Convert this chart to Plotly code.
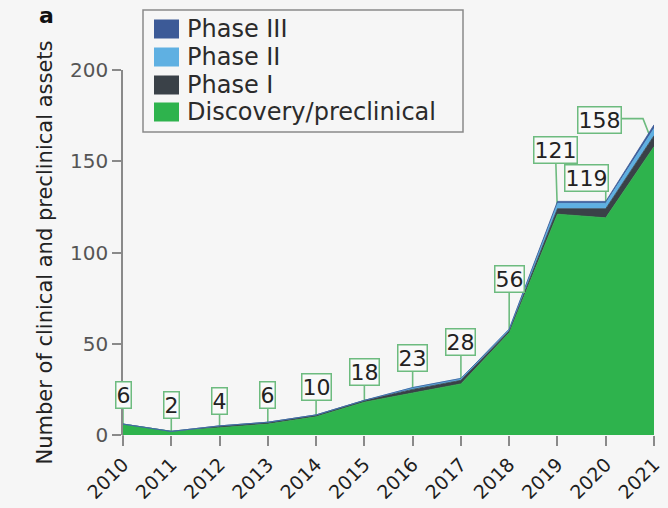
import plotly.graph_objects as go

# Pipeline counts per year, stacked from earliest stage upward
years = list(range(2010, 2022))
discovery = [6, 2, 4, 6, 10, 18, 23, 28, 56, 121, 119, 158]
phase1 = [0, 0, 1, 1, 1, 1, 2, 2, 1, 3, 5, 6]
phase2 = [0, 0, 0, 0, 0, 0, 1, 1, 1, 3, 3, 4]
phase3 = [0, 0, 0, 0, 0, 0, 0, 0, 0, 1, 1, 2]

series_names = ["Discovery/preclinical", "Phase I", "Phase II", "Phase III"]
series_colors = ["#2eb34d", "#3a4148", "#5fb0e2", "#3c5a97"]

# Callout box offsets (pixels from the labelled point to the box centre)
label_dx = [0, 0, 0, 0, 0, 0, 0, 0, 0, -2, -19, -55]
label_dy = [29, 26, 27, 29, 30, 30, 35, 42, 54, 64, 40, 27]

W, H = 668, 508
ML, MR, MT, MB = 123, 14, 70, 73
PW, PH = W - ML - MR, H - MT - MB


def px(x):
    return (x - ML) / PW


def py(y):
    return (H - MB - y) / PH


FONT = "DejaVu Sans"
LEADER = "#6dbb7f"
AXIS = "#8a8a8a"

fig = go.Figure()
for name, vals, col in zip(series_names, [discovery, phase1, phase2, phase3], series_colors):
    fig.add_trace(go.Scatter(
        x=years, y=vals, name=name, mode="lines",
        stackgroup="pipeline", line=dict(width=0.8, color=col),
        fillcolor=col, showlegend=False, hoverinfo="x+y+name",
    ))

shapes = []
annotations = []
for i, (yr, v) in enumerate(zip(years, discovery)):
    dx, dy = label_dx[i], label_dy[i]
    if i == len(years) - 1:
        path = f"M0,0 L-11,{dy + 1} L{dx},{dy + 1}"
    elif i == 10:
        path = f"M0,0 L0,{dy}"
    else:
        path = f"M0,0 L{dx},{dy}"
    shapes.append(dict(
        type="path", xref="x", yref="y", xsizemode="pixel", ysizemode="pixel",
        xanchor=yr, yanchor=v, path=path, layer="below",
        line=dict(color=LEADER, width=1.6),
    ))
    annotations.append(dict(
        x=yr, y=v, xref="x", yref="y", text=str(v), showarrow=False,
        xshift=dx, yshift=dy, xanchor="center", yanchor="middle",
        font=dict(family=FONT, size=22, color="#222222"),
        bgcolor="#f9f9f9", bordercolor=LEADER, borderwidth=1.5, borderpad=0,
    ))

# y-axis line continues down past zero to the bottom of the x ticks
shapes.append(dict(type="line", xref="paper", yref="paper",
                   x0=0, x1=0, y0=py(446), y1=0, line=dict(color=AXIS, width=1.5)))

# Legend box drawn by hand
shapes.append(dict(type="rect", xref="paper", yref="paper",
                   x0=px(143), x1=px(463), y0=py(132), y1=py(10),
                   line=dict(color=AXIS, width=1.5), fillcolor="rgba(0,0,0,0)"))
legend_rows = [("Phase III", "#3c5a97", 29), ("Phase II", "#5fb0e2", 57),
               ("Phase I", "#3a4148", 85), ("Discovery/preclinical", "#2eb34d", 112)]
for label, col, yc in legend_rows:
    shapes.append(dict(type="rect", xref="paper", yref="paper",
                       x0=px(154), x1=px(179), y0=py(yc + 9.5), y1=py(yc - 9.5),
                       line=dict(width=0), fillcolor=col))
    annotations.append(dict(x=px(185), y=py(yc), xref="paper", yref="paper",
                            text=label, showarrow=False, xanchor="left", yanchor="middle",
                            font=dict(family=FONT, size=24, color="#2b2b2b")))

annotations.append(dict(x=px(46), y=py(16), xref="paper", yref="paper", text="<b>a</b>",
                        showarrow=False, xanchor="center", yanchor="middle",
                        font=dict(family=FONT, size=22, color="#111111")))

fig.update_layout(
    width=W, height=H,
    margin=dict(l=ML, r=MR, t=MT, b=MB, pad=0),
    paper_bgcolor="#f6f6f6", plot_bgcolor="#f6f6f6",
    shapes=shapes, annotations=annotations, showlegend=False,
    xaxis=dict(range=[2010, 2021], tickvals=years, ticktext=[str(y) for y in years],
               tickangle=-45, ticks="outside", ticklen=10, tickcolor=AXIS,
               tickwidth=1.5, showgrid=False, zeroline=False, showline=False,
               automargin=False,
               tickfont=dict(family=FONT, size=19, color="#1e1e1e")),
    yaxis=dict(range=[0, 200], tickvals=[0, 50, 100, 150, 200], ticks="outside",
               ticklen=9, tickcolor=AXIS, tickwidth=1.5, showline=True,
               linecolor=AXIS, linewidth=1.5, showgrid=False, zeroline=False,
               automargin=False,
               tickfont=dict(family=FONT, size=20, color="#555555"),
               title=dict(text="Number of clinical and preclinical assets",
                          font=dict(family=FONT, size=21, color="#222222"), standoff=12)),
)

fig.write_html("out.html")
